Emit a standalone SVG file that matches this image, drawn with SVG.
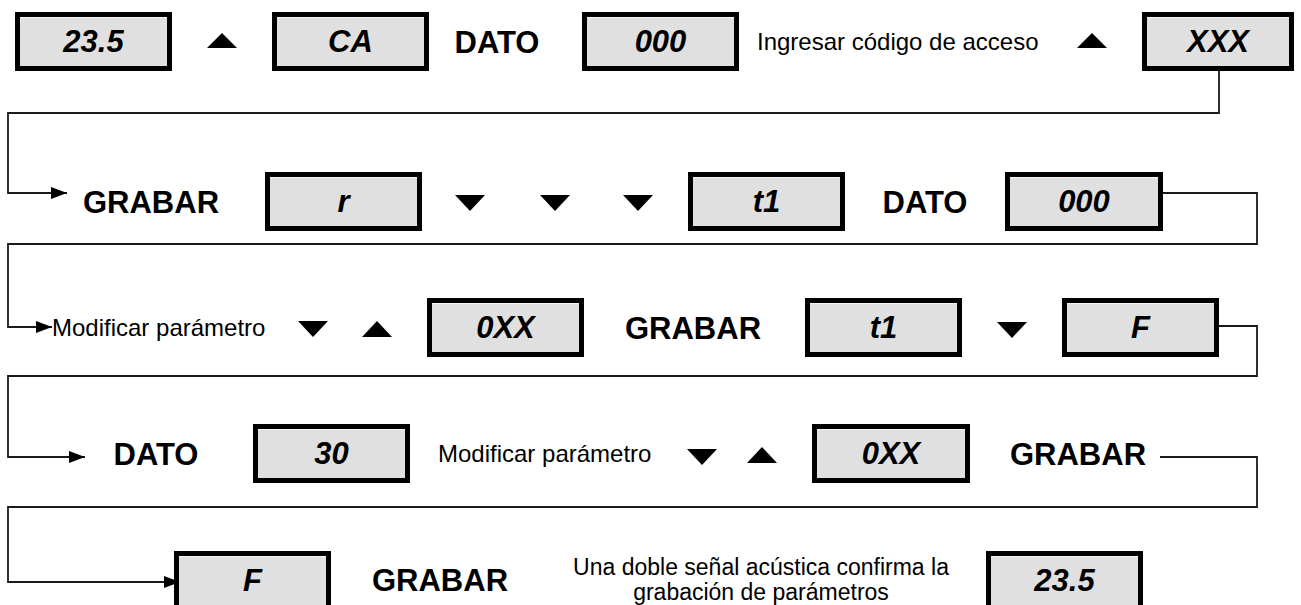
<svg xmlns="http://www.w3.org/2000/svg" width="1301" height="605" viewBox="0 0 1301 605">
<style>
.box rect{fill:#e0e0e0;stroke:#000;stroke-width:5}
.box line{stroke:#f6f6f6;stroke-width:1}
.bt{font-family:"Liberation Sans",Arial,sans-serif;font-size:31px;font-weight:bold;font-style:italic;text-anchor:middle;fill:#000}
.lb{font-family:"Liberation Sans",Arial,sans-serif;font-size:31px;font-weight:bold;text-anchor:middle;fill:#000}
.sm{font-family:"Liberation Sans",Arial,sans-serif;font-size:24px;fill:#000}
.sm2{font-family:"Liberation Sans",Arial,sans-serif;font-size:23px;fill:#000;text-anchor:middle}
.tri{fill:#000}
.con{fill:none;stroke:#1a1a1a;stroke-width:1.8}
</style>
<defs>
<marker id="ah" markerUnits="userSpaceOnUse" markerWidth="16" markerHeight="12" refX="16" refY="6" orient="auto">
<path d="M0,0 L16,6 L0,12 z" fill="#000"/>
</marker>
</defs>
<rect width="1301" height="605" fill="#fff"/>
<g id="connectors">
<path class="con" d="M1219,71 V113 H8 V193 H67" marker-end="url(#ah)"/>
<path class="con" d="M1163,193 H1257 V244 H8 V327 H52" marker-end="url(#ah)"/>
<path class="con" d="M1219,326 H1257 V376 H8 V457 H85" marker-end="url(#ah)"/>
<path class="con" d="M1160,457 H1257 V507 H8 V582 H180" marker-end="url(#ah)"/>
</g>
<g id="b1" class="box"><rect x="17.5" y="14.5" width="152" height="54"/><line x1="20" y1="17.5" x2="167" y2="17.5"/><text class="bt" x="93.5" y="52">23.5</text></g>
<g id="up1"><polygon class="tri" points="207,48 237,48 222,33"/></g>
<g id="b2" class="box"><rect x="274.5" y="14.5" width="152" height="54"/><line x1="277" y1="17.5" x2="424" y2="17.5"/><text class="bt" x="350.5" y="52">CA</text></g>
<g id="l1"><text class="lb" x="497" y="53">DATO</text></g>
<g id="b3" class="box"><rect x="584.5" y="14.5" width="152" height="54"/><line x1="587" y1="17.5" x2="734" y2="17.5"/><text class="bt" x="660.5" y="52">000</text></g>
<g id="s1"><text class="sm" x="757" y="50">Ingresar código de acceso</text></g>
<g id="up2"><polygon class="tri" points="1077,48 1107,48 1092,33"/></g>
<g id="b4" class="box"><rect x="1144.5" y="14.5" width="147" height="54"/><line x1="1147" y1="17.5" x2="1289" y2="17.5"/><text class="bt" x="1218" y="52">XXX</text></g>

<g id="l2"><text class="lb" x="151" y="213">GRABAR</text></g>
<g id="b5" class="box"><rect x="267.5" y="174.5" width="152" height="54"/><line x1="270" y1="177.5" x2="417" y2="177.5"/><text class="bt" x="343.5" y="212">r</text></g>
<g id="dn1"><polygon class="tri" points="455,195 485,195 470,211"/></g>
<g id="dn2"><polygon class="tri" points="540,195 570,195 555,211"/></g>
<g id="dn3"><polygon class="tri" points="623,195 653,195 638,211"/></g>
<g id="b6" class="box"><rect x="690.5" y="174.5" width="152" height="54"/><line x1="693" y1="177.5" x2="840" y2="177.5"/><text class="bt" x="766.5" y="212">t1</text></g>
<g id="l3"><text class="lb" x="925" y="213">DATO</text></g>
<g id="b7" class="box"><rect x="1007.5" y="174.5" width="153" height="54"/><line x1="1010" y1="177.5" x2="1158" y2="177.5"/><text class="bt" x="1084" y="212">000</text></g>

<g id="s2"><text class="sm" x="52" y="336">Modificar parámetro</text></g>
<g id="dn4"><polygon class="tri" points="298,321 328,321 313,337"/></g>
<g id="up3"><polygon class="tri" points="362,337 392,337 377,321"/></g>
<g id="b8" class="box"><rect x="429.5" y="300.5" width="152" height="54"/><line x1="432" y1="303.5" x2="579" y2="303.5"/><text class="bt" x="505.5" y="338">0XX</text></g>
<g id="l4"><text class="lb" x="693" y="339">GRABAR</text></g>
<g id="b9" class="box"><rect x="807.5" y="300.5" width="152" height="54"/><line x1="810" y1="303.5" x2="957" y2="303.5"/><text class="bt" x="883.5" y="338">t1</text></g>
<g id="dn5"><polygon class="tri" points="997,322 1027,322 1012,338"/></g>
<g id="b10" class="box"><rect x="1064.5" y="300.5" width="152" height="54"/><line x1="1067" y1="303.5" x2="1214" y2="303.5"/><text class="bt" x="1140.5" y="338">F</text></g>

<g id="l5"><text class="lb" x="156" y="465">DATO</text></g>
<g id="b11" class="box"><rect x="255.5" y="426.5" width="152" height="54"/><line x1="258" y1="429.5" x2="405" y2="429.5"/><text class="bt" x="331.5" y="464">30</text></g>
<g id="s3"><text class="sm" x="438" y="462">Modificar parámetro</text></g>
<g id="dn6"><polygon class="tri" points="687,449 717,449 702,465"/></g>
<g id="up4"><polygon class="tri" points="747,463 777,463 762,447"/></g>
<g id="b12" class="box"><rect x="814.5" y="426.5" width="153" height="54"/><line x1="817" y1="429.5" x2="965" y2="429.5"/><text class="bt" x="891" y="464">0XX</text></g>
<g id="l6"><text class="lb" x="1078" y="465">GRABAR</text></g>

<g id="b13" class="box"><rect x="176.5" y="553.5" width="152" height="54"/><line x1="179" y1="556.5" x2="326" y2="556.5"/><text class="bt" x="252.5" y="591">F</text></g>
<g id="l7"><text class="lb" x="440" y="591">GRABAR</text></g>
<g id="s4"><text class="sm2" x="761" y="575">Una doble señal acústica confirma la</text><text class="sm2" x="761" y="600">grabación de parámetros</text></g>
<g id="b14" class="box"><rect x="988.5" y="553.5" width="152" height="54"/><line x1="991" y1="556.5" x2="1138" y2="556.5"/><text class="bt" x="1064.5" y="591">23.5</text></g>
</svg>
